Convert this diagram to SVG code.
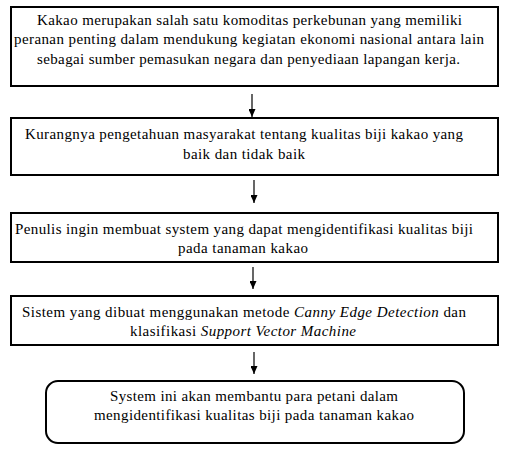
<svg xmlns="http://www.w3.org/2000/svg" width="505" height="454" viewBox="0 0 505 454" font-family="'Liberation Serif', 'Times New Roman', serif" font-size="15">
<style>
.box{fill:#fff;stroke:#000;stroke-width:2}
.i{font-style:italic}
.c{stroke:#000;stroke-width:1.2;fill:none}
</style>
<defs>
<marker id="ah" markerWidth="8" markerHeight="7" refX="8" refY="3.5" orient="auto" markerUnits="userSpaceOnUse" viewBox="0 0 8 7">
<path d="M0,0 L8,3.5 L0,7 Z" fill="#000"/>
</marker>
</defs>
<rect width="505" height="454" fill="#fff"/>
<g id="n1">
<rect class="box" x="11" y="7" width="487" height="79"/>
<text x="37" y="25" textLength="425" lengthAdjust="spacing">Kakao merupakan salah satu komoditas perkebunan yang memiliki</text>
<text x="14" y="44" textLength="470" lengthAdjust="spacing">peranan penting dalam mendukung kegiatan ekonomi nasional antara lain</text>
<text x="37" y="64" textLength="423" lengthAdjust="spacing">sebagai sumber pemasukan negara dan penyediaan lapangan kerja.</text>
</g>
<g id="n2">
<rect class="box" x="11" y="118" width="487" height="57"/>
<text x="25" y="139" textLength="438" lengthAdjust="spacing">Kurangnya pengetahuan masyarakat tentang kualitas biji kakao yang</text>
<text x="183" y="159" textLength="122" lengthAdjust="spacing">baik dan tidak baik</text>
</g>
<g id="n3">
<rect class="box" x="11" y="213" width="487" height="49"/>
<text x="15" y="234" textLength="458" lengthAdjust="spacing">Penulis ingin membuat system yang dapat mengidentifikasi kualitas biji</text>
<text x="178" y="253" textLength="130" lengthAdjust="spacing">pada tanaman kakao</text>
</g>
<g id="n4">
<rect class="box" x="11" y="296" width="487" height="49"/>
<text x="22" y="317" textLength="444" lengthAdjust="spacing">Sistem yang dibuat menggunakan metode <tspan class="i">Canny Edge Detection</tspan> dan</text>
<text x="130" y="336" textLength="226" lengthAdjust="spacing">klasifikasi <tspan class="i">Support Vector Machine</tspan></text>
</g>
<g id="n5">
<rect class="box" x="46" y="381" width="418" height="62" rx="12" ry="12"/>
<text x="110" y="401" textLength="288" lengthAdjust="spacing">System ini akan membantu para petani dalam</text>
<text x="94" y="420" textLength="320" lengthAdjust="spacing">mengidentifikasi kualitas biji pada tanaman kakao</text>
</g>
<g id="connectors">
<line class="c" x1="252" y1="94" x2="252" y2="117" marker-end="url(#ah)"/>
<line class="c" x1="254" y1="180" x2="254" y2="203" marker-end="url(#ah)"/>
<line class="c" x1="253" y1="267" x2="253" y2="289" marker-end="url(#ah)"/>
<line class="c" x1="254" y1="352" x2="254" y2="374" marker-end="url(#ah)"/>
</g>
</svg>
